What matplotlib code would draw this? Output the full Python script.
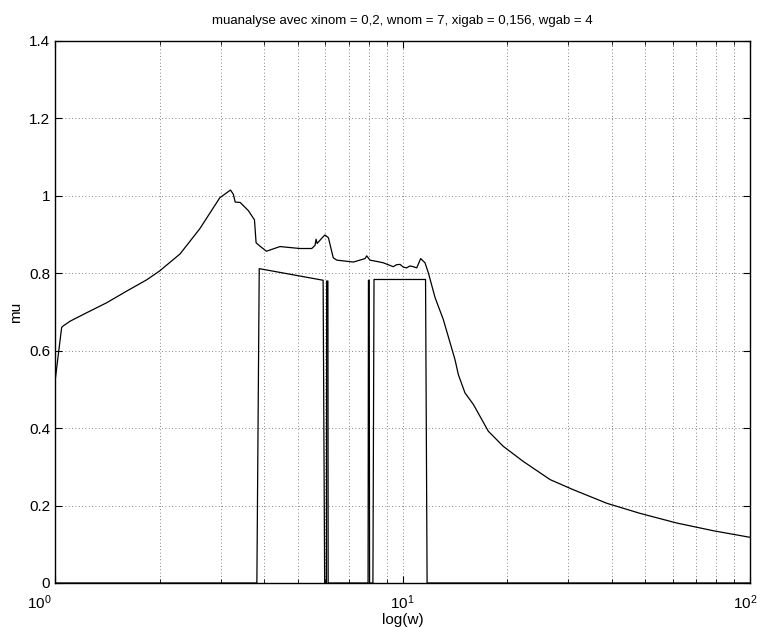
import numpy as np
import matplotlib
matplotlib.use("Agg")
import matplotlib.pyplot as plt
import matplotlib.transforms as mtrans
from matplotlib.ticker import LogLocator, FixedLocator, FuncFormatter, NullFormatter

plt.rcParams['font.family'] = ['Liberation Sans', 'DejaVu Sans']
plt.rcParams['mathtext.default'] = 'regular'

# upper bound of mu
w_up = [1.00, 1.045, 1.052, 1.104, 1.233, 1.409, 1.608, 1.835, 2.0, 2.29, 2.61, 2.98,
        3.12, 3.20, 3.26, 3.30, 3.41, 3.60, 3.75, 3.79, 3.89, 4.06, 4.44, 5.07, 5.48,
        5.60, 5.64, 5.68, 5.85, 5.98, 6.12, 6.32, 6.47, 7.22, 7.80, 7.89, 8.06, 8.5,
        8.81, 9.41, 9.6, 9.84, 10.05, 10.28, 10.5, 10.74, 10.99, 11.28, 11.61, 11.87,
        12.41, 13.1, 14.16, 14.48, 15.13, 16.0, 17.66, 19.5, 22.26, 26.6, 31.0, 38.7,
        48.2, 61.5, 78.4, 100]
mu_up = [0.52, 0.66, 0.663, 0.676, 0.698, 0.724, 0.754, 0.783, 0.806, 0.85, 0.915, 0.995,
         1.008, 1.015, 1.004, 0.984, 0.983, 0.962, 0.938, 0.879, 0.870, 0.857, 0.869, 0.864, 0.864,
         0.872, 0.888, 0.877, 0.89, 0.899, 0.892, 0.840, 0.834, 0.829, 0.838, 0.845, 0.834, 0.830,
         0.827, 0.817, 0.822, 0.823, 0.816, 0.814, 0.819, 0.817, 0.814, 0.838, 0.827, 0.801,
         0.737, 0.681, 0.577, 0.538, 0.491, 0.461, 0.392, 0.353, 0.314, 0.267, 0.241, 0.206,
         0.180, 0.155, 0.135, 0.118]

# lower bound of mu
w_lo = [1, 3.81, 3.87, 5.91, 5.97, 6.04, 6.05, 6.10, 6.11, 7.96, 7.98, 8.02, 8.04,
        8.22, 8.28, 11.65, 11.77, 100]
mu_lo = [0, 0, 0.812, 0.782, 0, 0, 0.78, 0.78, 0, 0, 0.782, 0.782, 0,
         0, 0.784, 0.784, 0, 0]

yticks = [0, 0.2, 0.4, 0.6, 0.8, 1, 1.2, 1.4]
xticks = [1, 10, 100]
xticklabels = ['$10^{0}$', '$10^{1}$', '$10^{2}$']

fig = plt.figure(figsize=(7.57, 6.28), dpi=100)
ax = fig.add_axes([55/757, 45/628, 695/757, 542/628])

ax.semilogx(w_up, mu_up, color='k', lw=0.9)
ax.semilogx(w_lo, mu_lo, color='k', lw=0.9)

ax.set_xlim(1, 100)
ax.set_ylim(0, 1.4)
ax.xaxis.set_major_locator(FixedLocator(xticks))
ax.xaxis.set_minor_locator(LogLocator(base=10, subs=np.arange(2, 10), numticks=10))
ax.xaxis.set_minor_formatter(NullFormatter())
ax.yaxis.set_major_locator(FixedLocator(yticks))
ax.yaxis.set_major_formatter(FuncFormatter(lambda v, p: '%g' % v))

ax.grid(True, which='both', axis='x', linestyle=(0, (1, 3)), color='0.35', lw=0.6)
ax.grid(True, which='major', axis='y', linestyle=(0, (1, 3)), color='0.35', lw=0.6)

ax.tick_params(which='both', direction='in', top=True, right=True, labelsize=11)
ax.tick_params(axis='x', which='major', labelbottom=False)
ax.tick_params(which='major', length=5)
ax.tick_params(which='minor', length=3)
for s in ax.spines.values():
    s.set_linewidth(1.0)

# x tick labels placed like MATLAB does (end labels pushed to the sides)
trans = ax.get_xaxis_transform()
for i, (xv, lab) in enumerate(zip(xticks, xticklabels)):
    if i == 0:
        ha, dx = 'right', -3
    elif i == len(xticks) - 1:
        ha, dx = 'right', 7
    else:
        ha, dx = 'center', 0
    t = trans + mtrans.ScaledTranslation(dx/100, -10/100, fig.dpi_scale_trans)
    ax.text(xv, 0, lab, transform=t, ha=ha, va='top', fontsize=11, clip_on=False)

ax.set_title('muanalyse avec xinom = 0,2, wnom = 7, xigab = 0,156, wgab = 4', fontsize=9.5, pad=12)
ax.set_xlabel('log(w)', fontsize=11, labelpad=18)
ax.set_ylabel('mu', fontsize=11, labelpad=4)

fig.savefig('out.png', dpi=100)
